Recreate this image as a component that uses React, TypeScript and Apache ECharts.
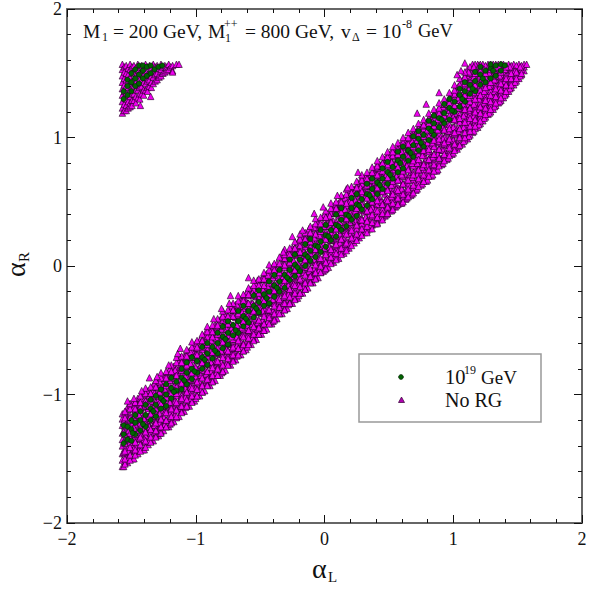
import React, { useEffect, useRef } from "react";
import * as echarts from "echarts";

// Every row is [alphaL, alphaR, alphaR, ...], estimated by eye from the reference.
const noRgBandRows: number[][] = [
  [-1.57,-1.56,-1.51,-1.46,-1.40,-1.35,-1.30,-1.24,-1.19,-1.15],
  [-1.53,-1.53,-1.47,-1.42,-1.37,-1.31,-1.26,-1.21,-1.15,-1.10],
  [-1.49,-1.50,-1.44,-1.39,-1.33,-1.28,-1.22,-1.17,-1.11,-1.07],
  [-1.45,-1.46,-1.41,-1.35,-1.30,-1.24,-1.19,-1.13,-1.08,-1.03],
  [-1.41,-1.43,-1.37,-1.31,-1.26,-1.21,-1.15,-1.10,-1.04,-1.00],
  [-1.37,-1.39,-1.34,-1.28,-1.22,-1.17,-1.11,-1.06,-1.01,-0.97],
  [-1.33,-1.36,-1.30,-1.24,-1.19,-1.14,-1.08,-1.02,-0.97,-0.93],
  [-1.29,-1.32,-1.26,-1.21,-1.15,-1.09,-1.04,-0.99,-0.94,-0.90],
  [-1.25,-1.28,-1.23,-1.17,-1.12,-1.06,-1.00,-0.95,-0.90,-0.86],
  [-1.21,-1.25,-1.19,-1.13,-1.08,-1.03,-0.97,-0.91,-0.86,-0.82],
  [-1.17,-1.21,-1.15,-1.10,-1.04,-0.98,-0.93,-0.88,-0.82,-0.78],
  [-1.13,-1.17,-1.11,-1.06,-1.00,-0.95,-0.89,-0.84,-0.79,-0.74],
  [-1.09,-1.13,-1.08,-1.02,-0.97,-0.91,-0.85,-0.80,-0.75,-0.70],
  [-1.05,-1.09,-1.04,-0.98,-0.93,-0.87,-0.82,-0.76,-0.71,-0.66],
  [-1.01,-1.05,-1.00,-0.95,-0.89,-0.83,-0.78,-0.73,-0.67,-0.62],
  [-0.97,-1.01,-0.96,-0.90,-0.85,-0.79,-0.74,-0.69,-0.63,-0.58],
  [-0.93,-0.97,-0.92,-0.86,-0.81,-0.76,-0.70,-0.64,-0.59,-0.54],
  [-0.89,-0.93,-0.88,-0.83,-0.77,-0.71,-0.66,-0.61,-0.55,-0.50],
  [-0.85,-0.89,-0.84,-0.78,-0.73,-0.68,-0.62,-0.56,-0.51,-0.46],
  [-0.81,-0.85,-0.80,-0.75,-0.69,-0.63,-0.58,-0.53,-0.47,-0.42],
  [-0.77,-0.81,-0.76,-0.70,-0.65,-0.60,-0.54,-0.48,-0.43,-0.38],
  [-0.73,-0.77,-0.72,-0.67,-0.61,-0.55,-0.50,-0.45,-0.39,-0.34],
  [-0.69,-0.73,-0.68,-0.62,-0.57,-0.52,-0.46,-0.40,-0.35,-0.30],
  [-0.65,-0.69,-0.64,-0.59,-0.53,-0.47,-0.42,-0.37,-0.31,-0.26],
  [-0.61,-0.65,-0.60,-0.54,-0.49,-0.44,-0.38,-0.32,-0.27,-0.22],
  [-0.57,-0.61,-0.56,-0.51,-0.45,-0.39,-0.34,-0.29,-0.23,-0.18],
  [-0.53,-0.57,-0.52,-0.46,-0.41,-0.36,-0.30,-0.24,-0.19,-0.14],
  [-0.49,-0.53,-0.48,-0.43,-0.37,-0.31,-0.26,-0.21,-0.15,-0.10],
  [-0.45,-0.49,-0.44,-0.38,-0.33,-0.28,-0.22,-0.16,-0.11,-0.06],
  [-0.41,-0.45,-0.40,-0.35,-0.29,-0.23,-0.18,-0.13,-0.07,-0.02],
  [-0.37,-0.41,-0.36,-0.30,-0.25,-0.20,-0.14,-0.08,-0.03,0.02],
  [-0.33,-0.37,-0.32,-0.27,-0.21,-0.15,-0.10,-0.05,0.01,0.06],
  [-0.29,-0.33,-0.28,-0.22,-0.17,-0.12,-0.06,0.00,0.05,0.10],
  [-0.25,-0.29,-0.24,-0.19,-0.13,-0.07,-0.02,0.03,0.09,0.14],
  [-0.21,-0.25,-0.20,-0.14,-0.09,-0.04,0.02,0.08,0.13,0.18],
  [-0.17,-0.21,-0.16,-0.11,-0.05,0.01,0.06,0.11,0.17,0.22],
  [-0.13,-0.17,-0.12,-0.06,-0.01,0.04,0.10,0.16,0.21,0.26],
  [-0.09,-0.13,-0.08,-0.03,0.03,0.09,0.14,0.19,0.25,0.30],
  [-0.05,-0.09,-0.04,0.02,0.07,0.12,0.18,0.24,0.29,0.34],
  [-0.01,-0.04,0.01,0.06,0.12,0.17,0.22,0.27,0.33,0.38],
  [0.03,-0.01,0.05,0.10,0.15,0.21,0.26,0.32,0.37,0.41],
  [0.07,0.03,0.08,0.14,0.20,0.25,0.30,0.35,0.41,0.45],
  [0.11,0.06,0.12,0.18,0.23,0.29,0.34,0.39,0.45,0.49],
  [0.15,0.10,0.15,0.21,0.27,0.32,0.37,0.43,0.48,0.53],
  [0.19,0.14,0.19,0.25,0.30,0.36,0.41,0.46,0.52,0.57],
  [0.23,0.18,0.23,0.29,0.34,0.40,0.45,0.50,0.56,0.60],
  [0.27,0.22,0.27,0.32,0.38,0.43,0.49,0.54,0.59,0.64],
  [0.31,0.26,0.31,0.36,0.42,0.47,0.53,0.58,0.63,0.68],
  [0.35,0.29,0.35,0.40,0.46,0.51,0.56,0.62,0.67,0.71],
  [0.39,0.33,0.38,0.44,0.49,0.55,0.60,0.65,0.71,0.75],
  [0.43,0.36,0.42,0.47,0.53,0.58,0.64,0.69,0.74,0.79],
  [0.47,0.39,0.45,0.51,0.56,0.62,0.67,0.73,0.78,0.83],
  [0.51,0.43,0.48,0.54,0.60,0.65,0.71,0.76,0.82,0.87],
  [0.55,0.46,0.52,0.58,0.63,0.69,0.74,0.80,0.85,0.90],
  [0.59,0.49,0.55,0.61,0.67,0.72,0.78,0.83,0.89,0.94],
  [0.63,0.52,0.58,0.64,0.70,0.76,0.81,0.87,0.92,0.98],
  [0.67,0.55,0.61,0.67,0.73,0.79,0.85,0.90,0.96,1.01],
  [0.71,0.59,0.65,0.71,0.77,0.83,0.88,0.94,0.99,1.04],
  [0.75,0.63,0.68,0.74,0.80,0.86,0.92,0.97,1.03,1.08],
  [0.79,0.66,0.72,0.78,0.84,0.90,0.95,1.01,1.06,1.11],
  [0.83,0.70,0.76,0.82,0.87,0.93,0.99,1.04,1.10,1.15],
  [0.87,0.74,0.80,0.85,0.91,0.97,1.02,1.08,1.13,1.18],
  [0.91,0.79,0.84,0.90,0.95,1.01,1.06,1.12,1.17,1.22],
  [0.95,0.83,0.88,0.94,0.99,1.04,1.10,1.15,1.21,1.26],
  [0.99,0.87,0.92,0.98,1.03,1.08,1.14,1.19,1.25,1.31],
  [1.03,0.91,0.96,1.02,1.07,1.13,1.18,1.23,1.29,1.35],
  [1.07,0.95,1.00,1.06,1.11,1.17,1.22,1.28,1.33,1.39,1.44],
  [1.11,0.99,1.05,1.10,1.16,1.21,1.26,1.32,1.37,1.43,1.48,1.53],
  [1.15,1.04,1.09,1.15,1.20,1.25,1.31,1.36,1.41,1.47,1.52,1.57],
  [1.19,1.08,1.14,1.19,1.24,1.30,1.35,1.40,1.46,1.51,1.57],
  [1.23,1.13,1.18,1.24,1.29,1.34,1.39,1.45,1.50,1.55,1.57],
  [1.27,1.18,1.23,1.28,1.33,1.39,1.44,1.49,1.54,1.57],
  [1.31,1.22,1.27,1.33,1.38,1.43,1.48,1.53,1.57],
  [1.35,1.27,1.32,1.37,1.42,1.47,1.52,1.57],
  [1.39,1.31,1.36,1.41,1.46,1.51,1.55,1.57],
  [1.43,1.36,1.41,1.46,1.50,1.54,1.57],
  [1.47,1.41,1.46,1.50,1.54,1.57],
  [1.51,1.46,1.50,1.54,1.57],
  [1.55,1.52,1.55,1.57],
  [1.57,1.57],
];

const noRgFillRows: number[][] = [
  [-1.55,-1.52,-1.46,-1.42,-1.36,-1.31,-1.25,-1.19,-1.14],
  [-1.51,-1.49,-1.43,-1.37,-1.33,-1.27,-1.20,-1.16,-1.10],
  [-1.47,-1.44,-1.40,-1.34,-1.28,-1.23,-1.18,-1.12,-1.06],
  [-1.43,-1.41,-1.35,-1.30,-1.25,-1.18,-1.14,-1.08,-1.03],
  [-1.39,-1.37,-1.32,-1.26,-1.21,-1.16,-1.09,-1.05,-0.99],
  [-1.35,-1.36,-1.30,-1.26,-1.20,-1.14,-1.09,-1.05,-0.99],
  [-1.31,-1.32,-1.27,-1.21,-1.17,-1.11,-1.06,-0.99,-0.94],
  [-1.27,-1.29,-1.23,-1.19,-1.12,-1.08,-1.01,-0.96,-0.92],
  [-1.23,-1.25,-1.20,-1.13,-1.09,-1.02,-0.98,-0.93,-0.86],
  [-1.19,-1.21,-1.14,-1.10,-1.03,-0.99,-0.95,-0.88,-0.83],
  [-1.15,-1.18,-1.11,-1.07,-1.01,-0.94,-0.90,-0.83,-0.80],
  [-1.11,-1.13,-1.08,-1.01,-0.96,-0.92,-0.85,-0.81,-0.74],
  [-1.07,-1.08,-1.02,-0.98,-0.92,-0.86,-0.81,-0.77,-0.71],
  [-1.03,-1.05,-0.99,-0.93,-0.89,-0.83,-0.78,-0.71,-0.66],
  [-0.99,-1.01,-0.95,-0.91,-0.84,-0.80,-0.73,-0.68,-0.64],
  [-0.95,-0.98,-0.92,-0.85,-0.81,-0.74,-0.70,-0.65,-0.58],
  [-0.91,-0.92,-0.86,-0.82,-0.76,-0.70,-0.65,-0.61,-0.55],
  [-0.87,-0.89,-0.83,-0.77,-0.73,-0.67,-0.62,-0.55,-0.50],
  [-0.83,-0.85,-0.79,-0.75,-0.68,-0.64,-0.57,-0.52,-0.48],
  [-0.79,-0.82,-0.76,-0.69,-0.65,-0.58,-0.54,-0.49,-0.42],
  [-0.75,-0.76,-0.70,-0.66,-0.60,-0.54,-0.49,-0.45,-0.39],
  [-0.71,-0.73,-0.67,-0.61,-0.57,-0.51,-0.46,-0.39,-0.34],
  [-0.67,-0.69,-0.63,-0.59,-0.52,-0.48,-0.41,-0.36,-0.32],
  [-0.63,-0.66,-0.60,-0.53,-0.49,-0.42,-0.38,-0.33,-0.26],
  [-0.59,-0.60,-0.54,-0.50,-0.44,-0.38,-0.33,-0.29,-0.23],
  [-0.55,-0.57,-0.51,-0.45,-0.41,-0.35,-0.30,-0.23,-0.18],
  [-0.51,-0.53,-0.47,-0.43,-0.36,-0.32,-0.25,-0.20,-0.16],
  [-0.47,-0.50,-0.44,-0.37,-0.33,-0.26,-0.22,-0.17,-0.10],
  [-0.43,-0.44,-0.38,-0.34,-0.28,-0.22,-0.17,-0.13,-0.07],
  [-0.39,-0.41,-0.35,-0.29,-0.25,-0.19,-0.14,-0.07,-0.02],
  [-0.35,-0.37,-0.31,-0.27,-0.20,-0.16,-0.09,-0.04,0.00],
  [-0.31,-0.34,-0.28,-0.21,-0.17,-0.10,-0.06,-0.01,0.06],
  [-0.27,-0.28,-0.22,-0.18,-0.12,-0.06,-0.01,0.03,0.09],
  [-0.23,-0.25,-0.19,-0.13,-0.09,-0.03,0.02,0.09,0.14],
  [-0.19,-0.21,-0.15,-0.11,-0.04,0.00,0.07,0.12,0.16],
  [-0.15,-0.18,-0.12,-0.05,-0.01,0.06,0.10,0.15,0.22],
  [-0.11,-0.12,-0.06,-0.02,0.04,0.10,0.15,0.19,0.25],
  [-0.07,-0.09,-0.03,0.03,0.07,0.13,0.18,0.25,0.30],
  [-0.03,-0.05,0.01,0.05,0.12,0.16,0.23,0.28,0.32],
  [0.01,-0.02,0.04,0.11,0.15,0.22,0.26,0.31,0.38],
  [0.05,0.04,0.10,0.14,0.20,0.26,0.31,0.35,0.41],
  [0.09,0.07,0.13,0.19,0.23,0.29,0.34,0.41,0.46],
  [0.13,0.11,0.17,0.21,0.28,0.32,0.39,0.44,0.48],
  [0.17,0.14,0.20,0.27,0.31,0.38,0.42,0.47,0.54],
  [0.21,0.20,0.26,0.30,0.36,0.42,0.47,0.51,0.57],
  [0.25,0.23,0.29,0.35,0.39,0.45,0.50,0.57,0.62],
  [0.29,0.26,0.33,0.37,0.44,0.48,0.55,0.60,0.64],
  [0.33,0.28,0.36,0.43,0.47,0.54,0.58,0.63,0.69],
  [0.37,0.32,0.39,0.46,0.50,0.57,0.62,0.67,0.72],
  [0.41,0.34,0.41,0.48,0.54,0.59,0.65,0.70,0.76],
  [0.45,0.38,0.44,0.50,0.58,0.63,0.69,0.74,0.80],
  [0.49,0.41,0.47,0.53,0.60,0.67,0.72,0.78,0.84],
  [0.53,0.46,0.52,0.58,0.64,0.69,0.75,0.80,0.86],
  [0.57,0.49,0.55,0.61,0.67,0.72,0.78,0.83,0.89],
  [0.61,0.53,0.59,0.64,0.70,0.76,0.81,0.87,0.93],
  [0.65,0.57,0.63,0.69,0.75,0.80,0.86,0.91,0.97],
  [0.69,0.61,0.67,0.73,0.78,0.84,0.89,0.95,1.00],
  [0.73,0.65,0.71,0.76,0.82,0.87,0.93,0.98,1.03],
  [0.77,0.69,0.75,0.80,0.86,0.91,0.96,1.02,1.07],
  [0.81,0.72,0.78,0.83,0.89,0.94,1.00,1.05,1.11],
  [0.85,0.76,0.81,0.87,0.93,0.98,1.04,1.09,1.15],
  [0.89,0.80,0.85,0.91,0.96,1.02,1.07,1.13,1.19],
  [0.93,0.84,0.90,0.95,1.00,1.06,1.11,1.17,1.23],
  [0.97,0.88,0.94,0.99,1.05,1.10,1.16,1.21,1.27],
  [1.01,0.92,0.97,1.03,1.08,1.14,1.19,1.25,1.31,1.36],
  [1.05,0.96,1.01,1.07,1.12,1.18,1.23,1.29,1.34,1.40],
  [1.09,0.98,1.03,1.08,1.14,1.19,1.24,1.29,1.35,1.41,1.47],
  [1.13,1.02,1.07,1.13,1.18,1.23,1.28,1.34,1.39,1.45,1.50,1.55],
  [1.17,1.07,1.12,1.17,1.22,1.27,1.33,1.38,1.44,1.49,1.54,1.57],
  [1.21,1.11,1.16,1.21,1.27,1.32,1.37,1.43,1.48,1.53,1.57],
  [1.25,1.16,1.21,1.26,1.31,1.37,1.42,1.47,1.52,1.56],
  [1.29,1.20,1.25,1.31,1.36,1.41,1.46,1.51,1.55,1.57],
  [1.33,1.25,1.30,1.35,1.40,1.45,1.50,1.54,1.57],
  [1.37,1.29,1.34,1.39,1.44,1.49,1.53,1.57],
  [1.41,1.34,1.39,1.43,1.48,1.53,1.56],
  [1.45,1.39,1.43,1.48,1.52,1.56],
  [1.49,1.44,1.48,1.52,1.56],
  [1.53,1.49,1.53,1.56],
];

const noRgSpreadRows: number[][] = [
  [-1.56,-1.56,-1.45,-1.37,-1.29,-1.21],
  [-1.52,-1.49,-1.44,-1.35,-1.28,-1.19,-1.11],
  [-1.48,-1.50,-1.42,-1.35,-1.26,-1.18,-1.10],
  [-1.44,-1.43,-1.34,-1.28,-1.16,-1.07],
  [-1.40,-1.43,-1.35,-1.26,-1.19,-1.09,-1.00],
  [-1.36,-1.36,-1.25,-1.17,-1.09,-1.01],
  [-1.32,-1.29,-1.24,-1.15,-1.08,-0.99,-0.91],
  [-1.28,-1.30,-1.22,-1.15,-1.06,-0.98,-0.90],
  [-1.24,-1.23,-1.14,-1.08,-0.96,-0.87],
  [-1.20,-1.23,-1.15,-1.06,-0.99,-0.89,-0.80],
  [-1.16,-1.16,-1.05,-0.97,-0.89,-0.81],
  [-1.12,-1.09,-1.04,-0.95,-0.88,-0.79,-0.71],
  [-1.08,-1.10,-1.02,-0.95,-0.86,-0.78,-0.70],
  [-1.04,-1.03,-0.94,-0.88,-0.76,-0.67],
  [-1.00,-1.03,-0.95,-0.86,-0.79,-0.69,-0.60],
  [-0.96,-0.96,-0.85,-0.77,-0.69,-0.61],
  [-0.92,-0.89,-0.84,-0.75,-0.68,-0.59,-0.51],
  [-0.88,-0.90,-0.82,-0.75,-0.66,-0.58,-0.50],
  [-0.84,-0.83,-0.74,-0.68,-0.56,-0.47],
  [-0.80,-0.83,-0.75,-0.66,-0.59,-0.49,-0.40],
  [-0.76,-0.76,-0.65,-0.57,-0.49,-0.41],
  [-0.72,-0.69,-0.64,-0.55,-0.48,-0.39,-0.31],
  [-0.68,-0.70,-0.62,-0.55,-0.46,-0.38,-0.30],
  [-0.64,-0.63,-0.54,-0.48,-0.36,-0.27],
  [-0.60,-0.63,-0.55,-0.46,-0.39,-0.29,-0.20],
  [-0.56,-0.56,-0.45,-0.37,-0.29,-0.21],
  [-0.52,-0.49,-0.44,-0.35,-0.28,-0.19,-0.11],
  [-0.48,-0.50,-0.42,-0.35,-0.26,-0.18,-0.10],
  [-0.44,-0.43,-0.34,-0.28,-0.16,-0.07],
  [-0.40,-0.43,-0.35,-0.26,-0.19,-0.09,0.00],
  [-0.36,-0.36,-0.25,-0.17,-0.09,-0.01],
  [-0.32,-0.29,-0.24,-0.15,-0.08,0.01,0.09],
  [-0.28,-0.30,-0.22,-0.15,-0.06,0.02,0.10],
  [-0.24,-0.23,-0.14,-0.08,0.04,0.13],
  [-0.20,-0.23,-0.15,-0.06,0.01,0.11,0.20],
  [-0.16,-0.16,-0.05,0.03,0.11,0.19],
  [-0.12,-0.09,-0.04,0.05,0.12,0.21,0.29],
  [-0.08,-0.10,-0.02,0.05,0.14,0.22,0.30],
  [-0.04,-0.03,0.06,0.12,0.24,0.33],
  [0.00,-0.03,0.05,0.14,0.21,0.31,0.40],
  [0.04,0.04,0.15,0.23,0.31,0.39],
  [0.08,0.11,0.16,0.25,0.32,0.41,0.48],
  [0.12,0.10,0.18,0.25,0.34,0.42,0.50],
  [0.16,0.17,0.26,0.32,0.44,0.53],
  [0.20,0.17,0.25,0.34,0.41,0.51,0.59],
  [0.24,0.22,0.35,0.43,0.51,0.59],
  [0.28,0.26,0.36,0.45,0.52,0.61,0.67],
  [0.32,0.27,0.38,0.45,0.54,0.62,0.69],
  [0.36,0.32,0.44,0.52,0.62,0.71],
  [0.40,0.33,0.44,0.54,0.61,0.71,0.77],
  [0.44,0.37,0.50,0.61,0.69,0.78],
  [0.48,0.40,0.52,0.63,0.71,0.80,0.85],
  [0.52,0.43,0.54,0.63,0.72,0.81,0.89],
  [0.56,0.47,0.60,0.70,0.80,0.92],
  [0.60,0.49,0.60,0.71,0.79,0.89,0.96],
  [0.64,0.53,0.67,0.78,0.86,0.95],
  [0.68,0.56,0.69,0.80,0.89,0.97,1.03],
  [0.72,0.60,0.71,0.80,0.90,0.98,1.06],
  [0.76,0.64,0.77,0.86,0.97,1.09],
  [0.80,0.67,0.78,0.89,0.96,1.06,1.13],
  [0.84,0.71,0.85,0.96,1.04,1.12],
  [0.88,0.75,0.87,0.97,1.06,1.14,1.21],
  [0.92,0.80,0.90,0.99,1.08,1.16,1.24],
  [0.96,0.84,0.97,1.05,1.15,1.27],
  [1.00,0.88,0.98,1.08,1.16,1.25,1.34],
  [1.04,0.93,1.05,1.15,1.23,1.31,1.40],
  [1.08,0.97,1.08,1.17,1.26,1.35,1.46],
  [1.12,1.01,1.12,1.21,1.31,1.42,1.51],
  [1.16,1.05,1.17,1.26,1.35,1.47,1.55],
  [1.20,1.10,1.22,1.30,1.42,1.50,1.56],
  [1.24,1.15,1.27,1.36,1.44,1.53],
  [1.28,1.19,1.30,1.40,1.50,1.56],
  [1.32,1.24,1.36,1.45,1.52],
  [1.36,1.28,1.39,1.48,1.55],
  [1.40,1.33,1.44,1.53],
  [1.44,1.38,1.47,1.55],
  [1.48,1.43,1.52],
  [1.52,1.48,1.55],
];

const noRgLowerRows: number[][] = [
  [-1.55,-1.54,-1.50,-1.44,-1.38,-1.24],
  [-1.51,-1.51,-1.47,-1.41,-1.30,-1.18],
  [-1.47,-1.47,-1.43,-1.37,-1.31,-1.16],
  [-1.43,-1.44,-1.39,-1.33,-1.22,-1.10],
  [-1.39,-1.41,-1.36,-1.29,-1.23,-1.08],
  [-1.35,-1.37,-1.33,-1.27,-1.15,-1.03],
  [-1.31,-1.33,-1.28,-1.22,-1.15,-1.01],
  [-1.27,-1.30,-1.25,-1.19,-1.07,-0.95],
  [-1.23,-1.25,-1.20,-1.14,-1.07,-0.93],
  [-1.19,-1.22,-1.17,-1.11,-0.99,-0.87],
  [-1.15,-1.17,-1.12,-1.06,-0.99,-0.85],
  [-1.11,-1.14,-1.09,-1.03,-0.91,-0.79],
  [-1.07,-1.09,-1.04,-0.98,-0.91,-0.77],
  [-1.03,-1.06,-1.01,-0.95,-0.83,-0.71],
  [-0.99,-1.01,-0.96,-0.90,-0.83,-0.69],
  [-0.95,-0.98,-0.93,-0.87,-0.75,-0.63],
  [-0.91,-0.93,-0.88,-0.82,-0.75,-0.61],
  [-0.87,-0.90,-0.85,-0.79,-0.67,-0.55],
  [-0.83,-0.85,-0.80,-0.74,-0.67,-0.53],
  [-0.79,-0.82,-0.77,-0.71,-0.59,-0.47],
  [-0.75,-0.77,-0.72,-0.66,-0.59,-0.45],
  [-0.71,-0.74,-0.69,-0.63,-0.51,-0.39],
  [-0.67,-0.69,-0.64,-0.58,-0.51,-0.37],
  [-0.63,-0.66,-0.61,-0.55,-0.43,-0.31],
  [-0.59,-0.61,-0.56,-0.50,-0.43,-0.29],
  [-0.55,-0.58,-0.53,-0.47,-0.35,-0.23],
  [-0.51,-0.53,-0.48,-0.42,-0.35,-0.21],
  [-0.47,-0.50,-0.45,-0.39,-0.27,-0.15],
  [-0.43,-0.45,-0.40,-0.34,-0.27,-0.13],
  [-0.39,-0.42,-0.37,-0.31,-0.19,-0.07],
  [-0.35,-0.37,-0.32,-0.26,-0.19,-0.05],
  [-0.31,-0.34,-0.29,-0.23,-0.11,0.01],
  [-0.27,-0.29,-0.24,-0.18,-0.11,0.03],
  [-0.23,-0.26,-0.21,-0.15,-0.03,0.09],
  [-0.19,-0.21,-0.16,-0.10,-0.03,0.11],
  [-0.15,-0.18,-0.13,-0.07,0.05,0.17],
  [-0.11,-0.13,-0.08,-0.02,0.05,0.19],
  [-0.07,-0.10,-0.05,0.01,0.13,0.25],
  [-0.03,-0.05,0.00,0.06,0.13,0.27],
  [0.01,-0.02,0.03,0.09,0.21,0.33],
  [0.05,0.02,0.07,0.13,0.20,0.34],
  [0.09,0.05,0.10,0.17,0.29,0.41],
  [0.13,0.09,0.14,0.21,0.28,0.42],
  [0.17,0.12,0.18,0.25,0.37,0.49],
  [0.21,0.16,0.22,0.28,0.36,0.50],
  [0.25,0.20,0.25,0.32,0.45,0.57],
  [0.29,0.24,0.29,0.36,0.44,0.58],
  [0.33,0.26,0.31,0.35,0.43,0.53,0.63],
  [0.37,0.29,0.34,0.40,0.50,0.61,0.70],
  [0.41,0.33,0.38,0.43,0.51,0.61,0.71],
  [0.45,0.36,0.41,0.48,0.58,0.69,0.78],
  [0.49,0.41,0.46,0.51,0.59,0.69,0.79],
  [0.53,0.44,0.49,0.56,0.66,0.77,0.86],
  [0.57,0.48,0.53,0.59,0.67,0.77,0.87],
  [0.61,0.50,0.56,0.64,0.74,0.85,0.94],
  [0.65,0.54,0.60,0.67,0.75,0.85,0.95],
  [0.69,0.57,0.63,0.71,0.82,0.93,1.02],
  [0.73,0.62,0.68,0.75,0.83,0.93,1.03],
  [0.77,0.66,0.71,0.79,0.90,1.01,1.10],
  [0.81,0.70,0.75,0.83,0.91,1.01,1.11],
  [0.85,0.74,0.79,0.87,0.98,1.09,1.18],
  [0.89,0.78,0.84,0.91,0.99,1.09,1.19],
  [0.93,0.82,0.87,0.96,1.06,1.17,1.26],
  [0.97,0.86,0.92,0.99,1.07,1.17,1.27],
  [1.01,0.90,0.95,1.04,1.14,1.25,1.34],
  [1.05,0.94,1.00,1.07,1.15,1.25,1.35],
  [1.09,1.00,1.04,1.12,1.22,1.33,1.42],
  [1.13,1.05,1.09,1.15,1.23,1.33,1.43],
  [1.17,1.09,1.14,1.20,1.30,1.41,1.50],
  [1.21,1.13,1.19,1.24,1.33,1.41,1.52],
  [1.25,1.18,1.23,1.29,1.39,1.50],
  [1.29,1.22,1.28,1.33,1.43,1.53],
  [1.33,1.27,1.32,1.38,1.48,1.55],
  [1.37,1.31,1.37,1.42,1.51],
  [1.41,1.36,1.41,1.46,1.55],
  [1.45,1.41,1.46,1.50],
  [1.49,1.46,1.51],
  [1.53,1.50],
];

const noRgUpperRows: number[][] = [
  [-1.55,-1.18,-1.13],[-1.51,-1.11,-1.07],[-1.47,-1.11,-1.06],[-1.43,-1.06,-1.01],
  [-1.39,-0.99,-0.95],[-1.35,-0.99,-0.94],[-1.31,-0.94,-0.89],[-1.27,-0.87,-0.83],
  [-1.23,-0.87,-0.82],[-1.19,-0.82,-0.77],[-1.15,-0.75,-0.71],[-1.11,-0.75,-0.70],
  [-1.07,-0.70,-0.65],[-1.03,-0.63,-0.59],[-0.99,-0.63,-0.58],[-0.95,-0.58,-0.53],
  [-0.91,-0.51,-0.47],[-0.87,-0.51,-0.46],[-0.83,-0.46,-0.41],[-0.79,-0.39,-0.35],
  [-0.75,-0.39,-0.34],[-0.71,-0.34,-0.29],[-0.67,-0.27,-0.23],[-0.63,-0.27,-0.22],
  [-0.59,-0.22,-0.17],[-0.55,-0.15,-0.11],[-0.51,-0.15,-0.10],[-0.47,-0.10,-0.05],
  [-0.43,-0.03,0.01],[-0.39,-0.03,0.02],[-0.35,0.02,0.07],[-0.31,0.09,0.13],
  [-0.27,0.09,0.14],[-0.23,0.14,0.19],[-0.19,0.21,0.25],[-0.15,0.21,0.26],
  [-0.11,0.26,0.31],[-0.07,0.33,0.37],[-0.03,0.33,0.38],[0.01,0.38,0.43],
  [0.05,0.45,0.49],[0.09,0.45,0.50],[0.13,0.50,0.55],[0.17,0.56,0.60],
  [0.21,0.57,0.62],[0.25,0.61,0.66],[0.29,0.67,0.71],[0.33,0.68,0.73],
  [0.37,0.73,0.77],[0.41,0.78,0.82],[0.45,0.80,0.85],[0.49,0.85,0.89],
  [0.53,0.89,0.93],[0.57,0.91,0.96],[0.61,0.96,1.00],[0.65,1.00,1.04],
  [0.69,1.03,1.07],[0.73,1.07,1.11],[0.77,1.10,1.14],[0.81,1.15,1.19],
  [0.85,1.18,1.22],[0.89,1.23,1.27],[0.93,1.26,1.30],[0.97,1.31,1.35],
  [1.01,1.37,1.41],[1.05,1.41,1.46],[1.09,1.47,1.51],
];

const noRgCornerRows: number[][] = [
  [-1.57,1.57,1.53,1.48,1.43,1.38,1.33,1.28,1.23,1.19],
  [-1.555,1.55,1.51,1.46,1.41,1.36,1.31,1.26,1.21],
  [-1.54,1.56,1.50,1.45,1.40,1.35,1.30,1.25,1.21],
  [-1.525,1.54,1.49,1.44,1.39,1.33,1.28,1.23],
  [-1.51,1.57,1.53,1.47,1.42,1.37,1.32,1.27,1.24],
  [-1.495,1.55,1.50,1.44,1.39,1.34,1.29,1.25],
  [-1.48,1.56,1.51,1.45,1.40,1.34,1.29],
  [-1.465,1.54,1.48,1.43,1.37,1.32,1.27],
  [-1.45,1.57,1.53,1.48,1.42,1.37,1.31],
  [-1.435,1.55,1.50,1.45,1.39,1.34,1.30],
  [-1.42,1.56,1.51,1.45,1.40,1.34],
  [-1.405,1.54,1.49,1.43,1.37,1.33],
  [-1.39,1.57,1.52,1.47,1.42,1.37],
  [-1.375,1.55,1.49,1.44,1.39,1.36],
  [-1.36,1.56,1.50,1.45,1.40],
  [-1.345,1.54,1.48,1.43,1.39],
  [-1.33,1.57,1.52,1.47,1.42],
  [-1.315,1.55,1.49,1.44],
  [-1.30,1.56,1.50,1.45],
  [-1.285,1.54,1.49,1.47],
  [-1.27,1.57,1.53,1.48],
  [-1.255,1.55,1.50],
  [-1.24,1.56,1.51],
  [-1.225,1.55,1.52],
  [-1.21,1.57,1.53],
  [-1.195,1.55],
  [-1.18,1.56,1.52],
  [-1.15,1.57],
  [-1.13,1.57],
];

const noRgOutliers: number[][] = [
  [-1.53,-1.05],[-1.48,-1.03],[-1.42,-0.97],[-1.36,-0.87],[-1.30,-0.86],[-1.21,-0.77],
  [-1.14,-0.68],[-1.12,-0.64],[-0.86,-0.41],[-0.80,-0.33],[-0.74,-0.29],[-0.73,-0.23],
  [-0.59,-0.09],[-0.32,0.11],[-0.25,0.23],[-0.17,0.28],[-0.08,0.41],[-0.01,0.46],
  [0.10,0.55],[0.18,0.61],[0.26,0.73],[0.72,1.19],[0.79,1.26],[0.89,1.35],
  [1.03,1.49],[1.06,1.52],[1.09,1.58],[-1.43,1.25],[-1.35,1.32],[-1.18,1.51],
];

const greenBandRows: number[][] = [
  [-1.56,-1.38,-1.31,-1.24],
  [-1.53,-1.35,-1.25],
  [-1.50,-1.36,-1.27,-1.20],
  [-1.47,-1.31,-1.22,-1.16],
  [-1.43,-1.28,-1.20,-1.13],
  [-1.39,-1.25,-1.16,-1.08],
  [-1.35,-1.20,-1.11,-1.04],
  [-1.31,-1.17,-1.08,-1.01],
  [-1.27,-1.11,-1.03,-0.96],
  [-1.23,-1.09,-1.00,-0.92],
  [-1.19,-1.03,-0.95,-0.87],
  [-1.15,-0.97,-0.90],
  [-1.11,-0.96,-0.87,-0.80],
  [-1.07,-0.92,-0.83,-0.75],
  [-1.03,-0.88,-0.80,-0.71],
  [-0.99,-0.83,-0.74],
  [-0.95,-0.80,-0.71,-0.63],
  [-0.91,-0.77,-0.68,-0.60],
  [-0.87,-0.72,-0.63],
  [-0.83,-0.68,-0.60,-0.52],
  [-0.79,-0.64,-0.55,-0.47],
  [-0.75,-0.61,-0.52,-0.43],
  [-0.71,-0.54,-0.46],
  [-0.67,-0.52,-0.43,-0.35],
  [-0.63,-0.47,-0.39,-0.31],
  [-0.59,-0.44,-0.35],
  [-0.55,-0.40,-0.31,-0.23],
  [-0.51,-0.36,-0.28,-0.19],
  [-0.47,-0.31,-0.22],
  [-0.43,-0.29,-0.20,-0.12],
  [-0.39,-0.24,-0.15,-0.07],
  [-0.35,-0.20,-0.12,-0.03],
  [-0.31,-0.17,-0.07],
  [-0.27,-0.11,-0.03,0.05],
  [-0.23,-0.08,0.01,0.09],
  [-0.19,-0.04,0.05],
  [-0.15,0.00,0.09,0.17],
  [-0.11,0.04,0.12,0.21],
  [-0.07,0.07,0.16],
  [-0.03,0.11,0.19,0.28],
  [0.01,0.15,0.24,0.32],
  [0.05,0.20,0.28],
  [0.09,0.23,0.32,0.40],
  [0.13,0.28,0.36,0.45],
  [0.17,0.31,0.40],
  [0.21,0.36,0.45,0.53],
  [0.25,0.39,0.48,0.56],
  [0.29,0.44,0.52],
  [0.33,0.47,0.56,0.64],
  [0.37,0.52,0.60,0.68],
  [0.41,0.56,0.65],
  [0.45,0.60,0.68,0.76],
  [0.49,0.64,0.73,0.81],
  [0.53,0.68,0.77],
  [0.57,0.73,0.82,0.89],
  [0.61,0.76,0.85,0.93],
  [0.65,0.82,0.90],
  [0.69,0.85,0.94,1.01],
  [0.73,0.90,0.99,1.05],
  [0.77,0.93,1.02],
  [0.81,0.98,1.07,1.13],
  [0.85,1.02,1.11,1.17],
  [0.89,1.08,1.15],
  [0.93,1.11,1.19,1.26],
  [0.97,1.14,1.23,1.30],
  [1.01,1.20,1.28],
  [1.05,1.24,1.33,1.38],
  [1.09,1.28,1.36,1.43],
  [1.13,1.34,1.41],
  [1.17,1.36,1.44,1.51],
  [1.21,1.41,1.49,1.55],
  [1.25,1.43,1.52],
  [1.29,1.46,1.54,1.57],
  [1.33,1.48,1.56],
  [1.37,1.52,1.57],
  [1.40,1.56],
];

const greenExtraPoints: number[][] = [
  [-1.49,-1.30],[-1.41,-1.23],[-1.33,-1.13],[-1.25,-1.05],[-1.17,-0.98],[-1.09,-0.89],
  [-1.01,-0.82],[-0.93,-0.73],[-0.85,-0.66],[-0.77,-0.57],[-0.69,-0.50],[-0.61,-0.41],
  [-0.53,-0.33],[-0.45,-0.25],[-0.37,-0.17],[-0.29,-0.09],[-0.21,-0.01],[-0.13,0.07],
  [-0.05,0.15],[0.03,0.23],[0.11,0.31],[0.19,0.39],[0.27,0.47],[0.35,0.55],
  [0.43,0.63],[0.51,0.71],[0.59,0.80],[0.67,0.88],[0.75,0.96],[0.83,1.05],
  [0.91,1.14],[0.99,1.21],[1.07,1.30],[1.15,1.38],[1.23,1.46],[1.31,1.52],
];

const greenCornerRows: number[][] = [
  [-1.56,1.30,1.36],
  [-1.53,1.33,1.40,1.45],
  [-1.50,1.36,1.43,1.50],
  [-1.47,1.40,1.46,1.53],
  [-1.44,1.42,1.49,1.56],
  [-1.41,1.46,1.52,1.56],
  [-1.38,1.48,1.55],
  [-1.35,1.50,1.56],
  [-1.32,1.53],
  [-1.29,1.55],
  [-1.26,1.56],
];

const rowsToPoints = (rows: number[][]) =>
  rows.flatMap(([x, ...ys]) => ys.map((y) => [x, y]));

const SERIF = "Liberation Serif";
const INK = "#111";
const AXIS = "#666";
const MAGENTA = "#f000f0";
const GREEN = "#006400";

const label = (text: string, x: number, y: number, size: number, extra: object = {}) => ({
  type: "text",
  x,
  y,
  silent: true,
  z: 20,
  style: { text, fontFamily: SERIF, fontSize: size, fill: INK, verticalAlign: "middle", align: "left", ...extra },
});

const fmt = (v: number) => String(v).replace("-", "\u2212");

export default function App() {
  const ref = useRef<HTMLDivElement>(null);
  useEffect(() => {
    document.body.style.margin = "0";
    const chart = echarts.init(ref.current!, undefined, { renderer: "svg" });
    const hAxis = (position: string, show: boolean, margin: number) => ({
      type: "value", min: -2, max: 2, interval: 1, position,
      axisLine: { show: true, onZero: false, lineStyle: { color: AXIS, width: 2 } },
      axisTick: { show: true, inside: true, length: 8, lineStyle: { color: INK, width: 1 } },
      minorTick: { show: true, splitNumber: 5, length: 4, lineStyle: { color: INK, width: 1 } },
      splitLine: { show: false },
      axisLabel: { show, formatter: fmt, fontFamily: SERIF, fontSize: 18, color: INK, margin },
    });
    chart.setOption({
      animation: false,
      backgroundColor: "#fff",
      grid: { left: 67, right: 8, top: 9, bottom: 67, containLabel: false },
      xAxis: [hAxis("bottom", true, 7), hAxis("top", false, 7)],
      yAxis: [hAxis("left", true, 5), hAxis("right", false, 5)],
      series: [
        {
          type: "scatter", symbol: "triangle", symbolSize: 6.5, large: false, progressive: 0,
          itemStyle: { color: MAGENTA, borderColor: "#1a001a", borderWidth: 0.6, opacity: 1 },
          data: [...rowsToPoints(noRgBandRows), ...rowsToPoints(noRgFillRows), ...rowsToPoints(noRgSpreadRows), ...rowsToPoints(noRgLowerRows), ...rowsToPoints(noRgUpperRows), ...rowsToPoints(noRgCornerRows), ...noRgOutliers],
        },
        {
          type: "scatter", symbol: "circle", symbolSize: 5.2, large: false, progressive: 0,
          itemStyle: { color: GREEN, borderColor: "#062006", borderWidth: 0.7, opacity: 1 },
          data: [...rowsToPoints(greenBandRows), ...greenExtraPoints, ...rowsToPoints(greenCornerRows)],
        },
      ],
      graphic: [
        label("M", 83, 31, 19.5),
        label("1", 102, 37, 12),
        label("= 200 GeV,", 113, 31, 19.5),
        label("M", 208, 31, 19.5),
        label("++", 224, 24, 12),
        label("1", 225, 38, 12),
        label("= 800 GeV,", 245, 31, 19.5),
        label("v", 341, 31, 19.5),
        label("\u0394", 352, 37, 12),
        label("= 10", 366, 31, 19.5),
        label("-8", 402, 24, 12),
        label("GeV", 418, 31, 18.5),
        label("\u03b1", 312, 568, 28),
        label("L", 328, 577, 15),
        { type: "group", x: 15, y: 265, rotation: Math.PI / 2, children: [
          label("\u03b1", -12, 0, 28),
          label("R", 3, 9, 15),
        ] },
        { type: "rect", z: 10, shape: { x: 359, y: 354, width: 182, height: 68 },
          style: { fill: "#fff", stroke: "#999", lineWidth: 1.5 } },
        { type: "circle", z: 11, shape: { cx: 401, cy: 377, r: 2.4 },
          style: { fill: GREEN, stroke: "#062006", lineWidth: 0.7 } },
        { type: "polygon", z: 11, shape: { points: [[401.5, 397], [404.5, 402.5], [398.5, 402.5]] },
          style: { fill: "#b000b0", stroke: "#300030", lineWidth: 0.7 } },
        label("10", 445, 377, 20.5),
        label("19", 464, 370, 12),
        label("GeV", 481, 377, 19),
        label("No RG", 445, 400, 20),
      ],
    });
    return () => chart.dispose();
  }, []);
  return <div ref={ref} style={{ width: 590, height: 590, position: "absolute", left: 0, top: 0 }} />;
}
